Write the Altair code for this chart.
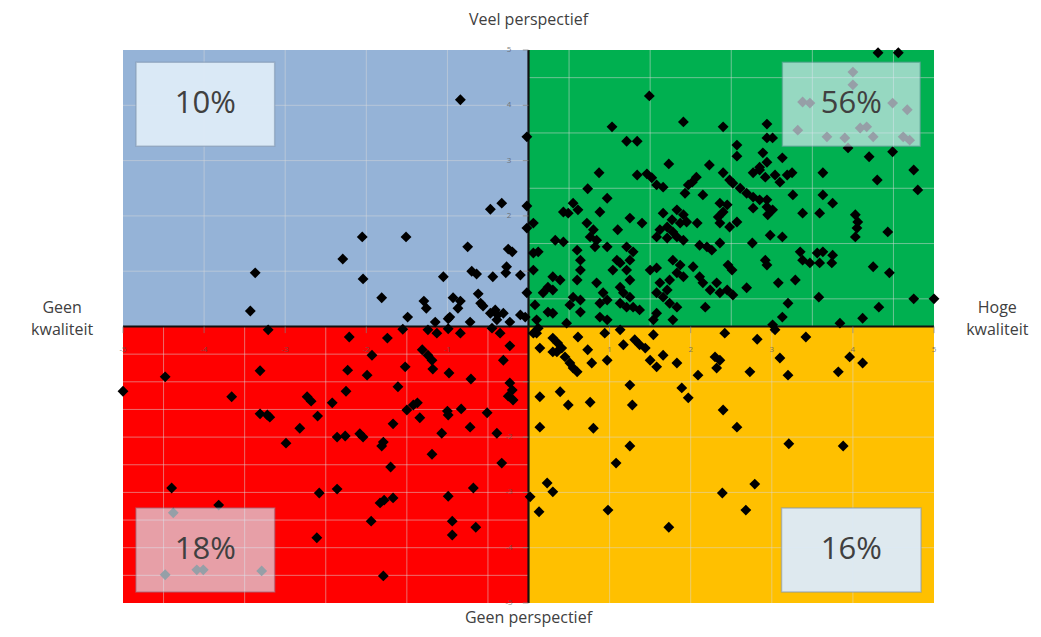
import altair as alt
import pandas as pd

# ---------------- data ----------------
blue_pts = [(-0.84,4.10),(-0.02,3.43),(-0.02,2.18),(-0.47,2.12),(-0.33,2.23),(-0.02,1.78),(-2.05,1.62),(-1.51,1.62),
            (-0.75,1.44),(-0.25,1.40),(-0.20,1.35),(-2.29,1.22),(-3.37,0.97),(-2.04,0.86),(-1.05,0.90),(-0.70,1.00),
            (-0.64,0.95),(-0.44,0.90),(-0.27,1.08),(-0.28,0.97),(-0.10,0.93),(-1.81,0.52),(-3.43,0.28),(-1.29,0.46),
            (-1.26,0.33),(-0.93,0.52),(-0.84,0.46),(-0.87,0.33),(-0.97,0.17),(-0.62,0.59),(-0.59,0.42),(-0.56,0.37),
            (-0.41,0.30),(-0.38,0.21),(-0.31,0.24),(-0.47,0.24),(-0.39,0.12),(-1.49,0.17),(-0.10,0.21),(-0.04,0.17),
            (-0.02,0.61),(-0.99,0.14),(-1.15,0.08),(-0.72,0.08),(-0.23,0.08)]

red_pts = [(-3.21,-0.06),(-2.21,-0.19),(-1.74,-0.21),(-1.55,-0.05),(-1.24,-0.06),(-1.13,-0.12),(-0.99,-0.04),(-0.84,-0.12),
           (-0.35,-0.12),(-0.45,-0.03),(-1.93,-0.52),(-1.31,-0.42),(-1.24,-0.52),(-1.19,-0.61),(-1.18,-0.77),(-0.23,-0.35),
           (-0.31,-0.61),(-4.48,-0.91),(-3.31,-0.80),(-2.23,-0.79),(-1.99,-0.88),(-1.52,-0.73),(-0.98,-0.84),(-0.71,-0.95),
           (-5.00,-1.17),(-3.66,-1.27),(-2.73,-1.27),(-2.68,-1.35),(-2.42,-1.38),(-2.25,-1.17),(-1.61,-1.09),(-0.23,-1.02),
           (-0.20,-1.15),(-0.25,-1.26),(-0.19,-1.33),(-3.31,-1.58),(-3.22,-1.60),(-3.19,-1.64),(-2.60,-1.62),(-1.50,-1.51),
           (-1.42,-1.42),(-1.37,-1.38),(-1.34,-1.65),(-1.00,-1.53),(-0.99,-1.60),(-0.83,-1.49),(-0.51,-1.56),(-2.82,-1.84),
           (-1.67,-1.76),(-1.07,-1.93),(-0.72,-1.82),(-0.39,-1.93),(-2.99,-2.11),(-2.36,-2.00),(-2.26,-1.98),(-2.08,-1.94),
           (-2.04,-2.00),(-1.81,-2.16),(-1.79,-2.09),(-1.19,-2.31),(-1.70,-2.54),(-0.33,-2.47),(-4.40,-2.92),(-2.58,-3.01),
           (-2.36,-2.94),(-1.83,-3.19),(-1.78,-3.14),(-1.67,-3.10),(-0.99,-3.07),(-0.68,-2.92),(-3.82,-3.23),(-4.38,-3.37),
           (-1.94,-3.52),(-0.94,-3.52),(-0.94,-3.77),(-0.65,-3.63),(-2.61,-3.82),(-1.79,-4.51),(-4.48,-4.49),(-4.09,-4.40),
           (-4.01,-4.40),(-3.29,-4.42)]

yellow_pts = [(0.06,-0.12),(0.12,-0.03),(0.14,-0.39),(0.30,-0.21),(0.36,-0.30),(0.35,-0.46),(0.41,-0.39),(0.45,-0.55),
              (0.51,-0.66),(0.55,-0.75),(0.60,-0.82),(0.30,-0.46),(0.61,-0.19),(0.73,-0.42),(0.78,-0.66),(0.94,-0.12),
              (0.97,-0.61),(1.13,-0.06),(1.17,-0.33),(1.31,-0.24),(1.37,-0.33),(1.44,-0.39),(1.50,-0.61),(1.58,-0.73),
              (1.54,-0.15),(1.66,-0.52),(1.83,-0.66),(2.42,-0.12),(2.82,-0.23),(3.04,-0.06),(3.42,-0.19),(2.09,-0.88),
              (2.30,-0.55),(2.36,-0.61),(2.32,-0.75),(2.73,-0.82),(3.10,-0.57),(3.20,-0.88),(3.82,-0.82),(3.96,-0.55),
              (4.12,-0.66),(1.89,-1.11),(1.97,-1.29),(0.14,-1.27),(0.39,-1.18),(0.49,-1.42),(0.76,-1.37),(1.25,-1.06),
              (1.28,-1.42),(2.40,-1.51),(2.57,-1.82),(0.14,-1.82),(0.80,-1.84),(1.25,-2.16),(1.08,-2.47),(3.21,-2.12),
              (3.88,-2.16),(0.23,-2.83),(0.30,-2.99),(0.02,-3.08),(0.13,-3.35),(0.98,-3.32),(1.73,-3.63),(2.39,-3.01),
              (2.79,-2.85),(2.68,-3.32),(0.10,-0.12)]

green_pts = [(4.31,4.95),(4.56,4.95),(4.00,4.60),(4.00,4.37),(3.38,4.06),(3.47,4.04),(4.49,4.04),(4.67,3.92),(3.32,3.55),
             (3.68,3.43),(3.90,3.41),(4.09,3.59),(4.17,3.61),(4.25,3.43),(4.62,3.43),(4.70,3.37),(1.49,4.17),(1.91,3.70),
             (1.03,3.61),(2.40,3.61),(2.94,3.66),(1.21,3.35),(1.34,3.35),(2.94,3.41),(3.01,3.41),(2.57,3.28),(2.57,3.08),
             (3.94,3.23),(4.20,3.07),(4.49,3.16),(2.89,3.14),(2.94,2.97),(2.85,2.88),(3.13,3.05),(1.73,2.94),(2.23,2.92),
             (0.87,2.78),(1.34,2.74),(1.46,2.76),(1.52,2.69),(1.58,2.56),(1.66,2.52),(2.40,2.78),(2.48,2.65),(2.77,2.78),
             (2.85,2.83),(2.92,2.70),(3.04,2.74),(3.10,2.61),(3.19,2.74),(3.25,2.78),(2.07,2.70),(2.02,2.61),(1.97,2.56),
             (3.63,2.78),(4.75,2.83),(4.30,2.65),(0.73,2.49),(1.93,2.41),(2.52,2.59),(2.61,2.50),(2.69,2.41),(2.77,2.34),
             (2.85,2.29),(2.94,2.29),(4.80,2.47),(3.26,2.38),(3.63,2.38),(3.75,2.23),(0.97,2.32),(2.15,2.38),(0.55,2.23),
             (0.61,2.11),(0.43,2.07),(0.49,2.05),(0.88,2.07),(2.36,2.23),(2.45,2.20),(2.40,2.07),(2.34,1.98),(2.77,2.14),
             (2.94,2.16),(3.01,2.11),(2.95,2.02),(1.66,2.05),(1.83,2.11),(1.91,2.02),(1.77,1.93),(1.87,1.87),(1.95,1.89),
             (3.38,2.05),(3.59,2.05),(4.03,2.02),(4.06,1.89),(4.05,1.78),(4.03,1.62),(0.06,1.87),(0.72,1.87),(0.80,1.75),
             (0.76,1.62),(0.84,1.56),(0.82,1.44),(1.25,1.96),(1.40,1.87),(1.62,1.75),(1.71,1.80),(1.78,1.71),(2.08,1.87),
             (2.57,1.89),(2.48,1.80),(2.36,1.87),(4.43,1.71),(1.10,1.75),(0.33,1.56),(0.43,1.53),(1.58,1.62),(1.71,1.60),
             (1.83,1.62),(1.91,1.56),(2.11,1.47),(2.20,1.44),(2.26,1.38),(2.36,1.51),(2.98,1.65),(3.13,1.62),(2.76,1.51),
             (1.21,1.44),(1.29,1.35),(1.25,1.20),(0.12,1.35),(0.60,1.38),(0.64,1.20),(0.64,1.02),(3.35,1.35),(3.38,1.20),
             (3.47,1.15),(3.56,1.33),(3.59,1.15),(3.63,1.35),(3.75,1.29),(3.74,1.15),(1.09,1.20),(1.13,1.15),(1.04,1.02),
             (1.21,1.02),(1.78,1.20),(1.87,1.11),(1.83,0.97),(1.91,0.90),(1.74,0.84),(2.03,1.08),(2.11,0.90),(2.46,1.11),
             (2.51,1.02),(2.92,1.20),(2.94,1.11),(4.25,1.08),(4.45,0.97),(0.30,0.90),(0.39,0.84),(0.24,0.71),(0.18,0.61),
             (0.84,0.79),(1.50,1.02),(1.58,1.06),(1.25,0.84),(1.13,0.71),(1.17,0.61),(1.25,0.53),(1.62,0.79),(1.71,0.66),
             (1.58,0.61),(1.66,0.53),(2.15,0.79),(2.24,0.66),(2.32,0.79),(2.36,0.61),(2.45,0.66),(2.52,0.57),(2.69,0.70),
             (3.08,0.79),(3.29,0.84),(0.55,0.53),(0.64,0.48),(0.51,0.39),(0.92,0.61),(0.97,0.48),(0.88,0.42),(1.29,0.35),
             (1.37,0.30),(1.21,0.35),(1.13,0.42),(1.58,0.24),(1.54,0.12),(1.83,0.35),(2.18,0.35),(3.20,0.42),(3.58,0.53),
             (3.13,0.17),(4.32,0.35),(4.75,0.50),(5.00,0.50),(3.84,0.06),(4.12,0.15),(0.24,0.26),(0.88,0.17),(0.97,0.12),
             (0.10,0.12),(0.47,0.06),(1.78,0.12),(3.01,0.03),(0.06,1.33),(0.06,1.02),(0.08,0.39),(0.97,1.44),(0.30,0.66),
             (0.60,0.84),(1.74,0.42),(0.30,0.24),(0.64,0.26)]

# quadrants
quad_x = [-5, 0, -5, 0]
quad_x2 = [0, 5, 0, 5]
quad_y = [0, 0, -5, -5]
quad_y2 = [5, 5, 0, 0]
quad_colors = ["#95B3D7", "#00B050", "#FF0000", "#FFC000"]

# grid lines of each quadrant (vertical positions, horizontal positions)
grid_v = [[-4, -3, -2, -1], [0.5, 1.5, 2.5, 3.5, 4.5], [-4.5, -3.5, -2.5, -1.5, -0.5], [1, 2, 3, 4]]
grid_h = [[1, 2, 3, 4], [0.5, 1.5, 2.5, 3.5, 4.5],
          [-0.5, -1, -1.5, -2, -2.5, -3, -3.5, -4, -4.5], [-1, -2, -3, -4]]

# percentage boxes
box_labels = ["10%", "56%", "18%", "16%"]
box_x = [-4.84, 3.13, -4.84, 3.12]
box_x2 = [-3.13, 4.83, -3.13, 4.84]
box_y = [4.78, 4.78, -3.28, -3.28]
box_y2 = [3.26, 3.26, -4.80, -4.80]
box_opacity = [0.97, 0.68, 0.68, 0.97]

tick_values = [-5, -4, -3, -2, -1, 1, 2, 3, 4, 5]

# ---------------- build tables ----------------
pts = pd.DataFrame(blue_pts + green_pts + red_pts + yellow_pts, columns=["x", "y"])

quads = pd.DataFrame({"x": quad_x, "x2": quad_x2, "y": quad_y, "y2": quad_y2, "c": quad_colors})

grid_rows = []
for i in range(4):
    for v in grid_v[i]:
        grid_rows.append({"x": v, "x2": v, "y": quad_y[i], "y2": quad_y2[i]})
    for h in grid_h[i]:
        grid_rows.append({"x": quad_x[i], "x2": quad_x2[i], "y": h, "y2": h})
grid = pd.DataFrame(grid_rows)

axes_df = pd.DataFrame({"x": [-5, 0], "x2": [5, 0], "y": [0, -5], "y2": [0, 5]})

yticks = pd.DataFrame({"x": [-0.07] * len(tick_values), "x2": [0] * len(tick_values),
                       "y": tick_values, "y2": tick_values})
xticks = pd.DataFrame({"x": tick_values, "x2": tick_values,
                       "y": [0] * len(tick_values), "y2": [-0.12] * len(tick_values)})
ylab = pd.DataFrame({"x": [-0.24] * len(tick_values), "y": tick_values, "t": [str(v) for v in tick_values]})
xlab = pd.DataFrame({"x": tick_values, "y": [-0.42] * len(tick_values), "t": [str(v) for v in tick_values]})

boxes = pd.DataFrame({"x": box_x, "x2": box_x2, "y": box_y, "y2": box_y2, "op": box_opacity, "t": box_labels})
boxes["cx"] = (boxes["x"] + boxes["x2"]) / 2
boxes["cy"] = (boxes["y"] + boxes["y2"]) / 2

titles = pd.DataFrame({
    "x": [0, 0, -5.75, -5.75, 5.78, 5.78],
    "y": [5.55, -5.28, 0.33, -0.07, 0.33, -0.07],
    "t": ["Veel perspectief", "Geen perspectief", "Geen", "kwaliteit", "Hoge", "kwaliteit"],
})

xs = alt.Scale(domain=[-5, 5], nice=False, zero=False)
ys = alt.Scale(domain=[-5, 5], nice=False, zero=False)
X = lambda f: alt.X(f, type="quantitative", scale=xs, axis=None)
Y = lambda f: alt.Y(f, type="quantitative", scale=ys, axis=None)

quad_layer = alt.Chart(quads).mark_rect().encode(
    x=X("x"), x2="x2", y=Y("y"), y2="y2", color=alt.Color("c:N", scale=None))

grid_layer = alt.Chart(grid).mark_rule(color="#D9D9D9", strokeWidth=1, opacity=0.5).encode(
    x=X("x"), x2="x2", y=Y("y"), y2="y2")

axis_layer = alt.Chart(axes_df).mark_rule(color="#111111", strokeWidth=2.2).encode(
    x=X("x"), x2="x2", y=Y("y"), y2="y2")

ytick_layer = alt.Chart(yticks).mark_rule(color="#7F7F7F", strokeWidth=1, opacity=0.7).encode(
    x=X("x"), x2="x2", y=Y("y"), y2="y2")
xtick_layer = alt.Chart(xticks).mark_rule(color="#7F7F7F", strokeWidth=1, opacity=0.7).encode(
    x=X("x"), x2="x2", y=Y("y"), y2="y2")

ylab_layer = alt.Chart(ylab).mark_text(fontSize=8, color="#595959", opacity=0.75, font="Open Sans",
                                       baseline="middle").encode(x=X("x"), y=Y("y"), text="t:N")
xlab_layer = alt.Chart(xlab).mark_text(fontSize=8, color="#595959", opacity=0.75, font="Open Sans",
                                       baseline="middle").encode(x=X("x"), y=Y("y"), text="t:N")

pt_layer = alt.Chart(pts).mark_point(shape="diamond", filled=True, size=118, color="black", opacity=1).encode(
    x=X("x"), y=Y("y"))

box_layer = alt.Chart(boxes).mark_rect(color="#DDEBF7", stroke="#8497B0", strokeWidth=1.5, strokeOpacity=0.6).encode(
    x=X("x"), x2="x2", y=Y("y"), y2="y2", opacity=alt.Opacity("op:Q", scale=None))

box_text = alt.Chart(boxes).mark_text(fontSize=31, color="#404040", font="Open Sans", baseline="middle").encode(
    x=X("cx"), y=Y("cy"), text="t:N")

title_layer = alt.Chart(titles).mark_text(fontSize=16, color="#404040", font="Open Sans", baseline="middle").encode(
    x=X("x"), y=Y("y"), text="t:N")

chart = alt.layer(
    quad_layer, grid_layer, axis_layer, ytick_layer, xtick_layer, ylab_layer, xlab_layer,
    pt_layer, box_layer, box_text, title_layer
).properties(
    width=811, height=553,
    autosize=alt.AutoSizeParams(type="none"),
    padding={"left": 115, "top": 42, "right": 99, "bottom": 26},
).configure_view(stroke=None)

chart.save("out.html", embed_options={"renderer": "svg", "actions": False})
